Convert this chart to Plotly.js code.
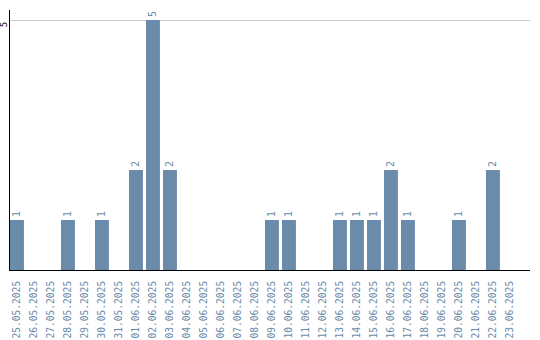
<!DOCTYPE html>
<html><head><meta charset="utf-8">
<script src="https://cdn.plot.ly/plotly-3.0.1.min.js"></script>
<style>html,body{margin:0;padding:0;background:#fff}#c{width:540px;height:340px}</style>
</head><body><div id="c"></div>
<script>
const dates = ["25.05.2025","26.05.2025","27.05.2025","28.05.2025","29.05.2025","30.05.2025","31.05.2025","01.06.2025","02.06.2025","03.06.2025","04.06.2025","05.06.2025","06.06.2025","07.06.2025","08.06.2025","09.06.2025","10.06.2025","11.06.2025","12.06.2025","13.06.2025","14.06.2025","15.06.2025","16.06.2025","17.06.2025","18.06.2025","19.06.2025","20.06.2025","21.06.2025","22.06.2025","23.06.2025"];
const counts = [1,0,0,1,0,1,0,2,5,2,0,0,0,0,0,1,1,0,0,1,1,1,2,1,0,0,1,0,2,0];
const labels = counts.map(v => v > 0 ? String(v) : "");
const yTicks = [5];

const trace = {
  type: "bar", x: dates, y: counts, text: labels,
  textposition: "outside", textangle: -90, cliponaxis: false, constraintext: "none",
  textfont: {family: "DejaVu Sans Mono", size: 10, color: "#6a8caa"},
  marker: {color: "#6a8caa"}, hoverinfo: "none"
};
const layout = {
  width: 540, height: 340,
  margin: {l: 10, r: 10, t: 10, b: 70, pad: 0},
  paper_bgcolor: "#fff", plot_bgcolor: "#fff",
  bargap: 0.18, showlegend: false,
  xaxis: {type: "category", range: [-0.41, 30.18], showline: true, linecolor: "#000", linewidth: 1,
    showgrid: false, ticks: "", tickangle: -90, ticklabelstandoff: 6,
    tickfont: {family: "DejaVu Sans Mono", size: 9.6, color: "#6a8caa"}, zeroline: false},
  yaxis: {range: [0, 5.2], tickvals: yTicks, ticktext: yTicks.map(String), showline: true, linecolor: "#000", linewidth: 1,
    showgrid: true, gridcolor: "#cccccc", zeroline: false, ticks: "", tickangle: -90, ticklabelstandoff: -2,
    ticklabelshift: 6,
    tickfont: {family: "DejaVu Sans Mono", size: 9, color: "#000"}}
};
Plotly.newPlot("c", [trace], layout, {displayModeBar: false, staticPlot: true});
</script></body></html>
